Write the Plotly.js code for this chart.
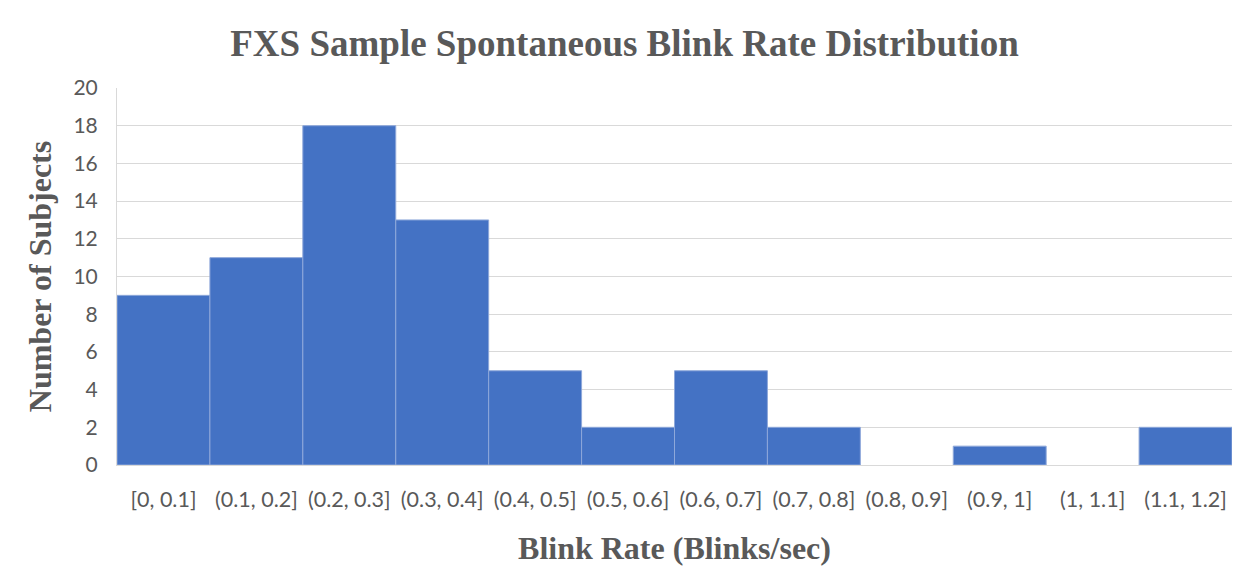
<!DOCTYPE html>
<html>
<head>
<meta charset="utf-8">
<script src="https://cdn.plot.ly/plotly-3.0.1.min.js"></script>
<style>html,body{margin:0;padding:0;background:#fff;}#chart{width:1249px;height:578px;}</style>
</head>
<body>
<div id="chart"></div>
<script>
const binLabels = ["[0, 0.1]", "(0.1, 0.2]", "(0.2, 0.3]", "(0.3, 0.4]", "(0.4, 0.5]", "(0.5, 0.6]", "(0.6, 0.7]", "(0.7, 0.8]", "(0.8, 0.9]", "(0.9, 1]", "(1, 1.1]", "(1.1, 1.2]"];
const counts = [9, 11, 18, 13, 5, 2, 5, 2, 0, 1, 0, 2];
const yTicks = [0, 2, 4, 6, 8, 10, 12, 14, 16, 18, 20];

const trace = {
  type: "bar",
  x: binLabels,
  y: counts,
  marker: {color: "#4472C4", line: {color: "#8EA8DA", width: counts.map(c => c > 0 ? 1 : 0)}},
  hoverinfo: "x+y"
};

const layout = {
  width: 1249, height: 578,
  margin: {l: 117, r: 17, t: 88, b: 113},
  paper_bgcolor: "#fff", plot_bgcolor: "#fff",
  bargap: 0,
  showlegend: false,
  title: {
    text: "<b>FXS Sample Spontaneous Blink Rate Distribution</b>",
    font: {family: "Liberation Serif, Times New Roman, serif", size: 37, color: "#595959"},
    x: 0.5, xanchor: "center", y: 0.925, yanchor: "middle"
  },
  xaxis: {
    type: "category",
    tickfont: {family: "Lato, Carlito, sans-serif", size: 21.5, color: "#595959"},
    showline: true, linecolor: "#D9D9D9", linewidth: 1,
    ticks: "", showgrid: false,
    ticklabelstandoff: 15,
    title: {text: "<b>Blink Rate (Blinks/sec)</b>", font: {family: "Liberation Serif, Times New Roman, serif", size: 32, color: "#595959"}, standoff: 25}
  },
  yaxis: {
    range: [0, 20],
    tickvals: yTicks,
    tickfont: {family: "Lato, Carlito, sans-serif", size: 21, color: "#595959"},
    showgrid: true, gridcolor: "#D9D9D9", gridwidth: 1,
    showline: true, linecolor: "#D9D9D9", linewidth: 1,
    zeroline: false, ticks: "",
    ticklabelstandoff: 14,
    title: {text: "<b>Number of Subjects</b>", font: {family: "Liberation Serif, Times New Roman, serif", size: 32, color: "#595959"}, standoff: 12}
  }
};

Plotly.newPlot("chart", [trace], layout, {displayModeBar: false, staticPlot: true});
</script>
</body>
</html>
